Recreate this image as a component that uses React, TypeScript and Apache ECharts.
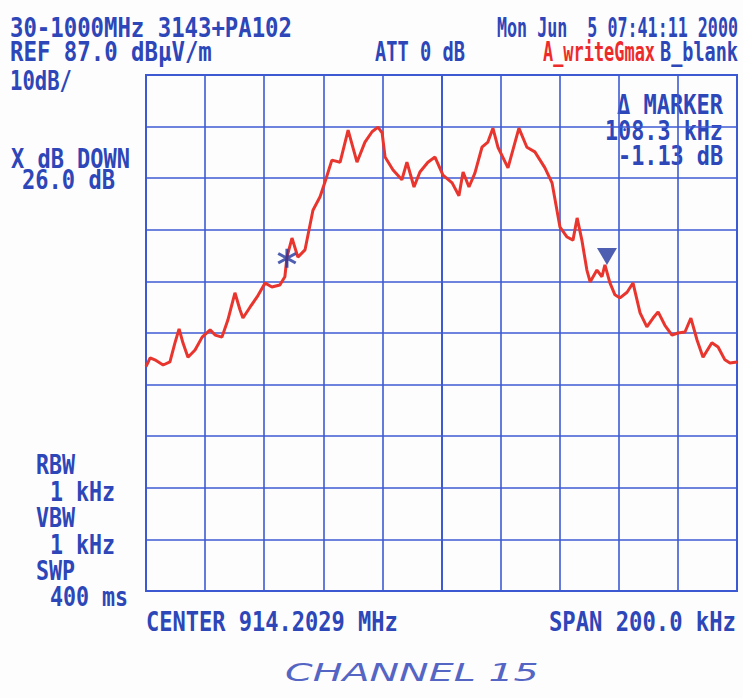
import React, { useEffect, useRef } from "react";
import * as echarts from "echarts";

// Frequency offset from centre (kHz) and level (dBµV/m)
const freqOffsetKHz = [
  -100, -98.6, -97.0, -94.2, -91.9, -90.2, -88.8, -87.5, -85.8, -83.4, -81.0, -78.3, -76.6, -74.3,
  -72.3, -69.9, -68.2, -67.2, -64.8, -62.4, -59.7, -57.4, -54.7, -53.0, -52.3, -50.6, -48.6, -46.2,
  -43.5, -41.1, -39.4, -37.1, -34.3, -31.6, -28.6, -25.9, -23.5, -21.5, -20.1, -19.1, -16.4, -13.4,
  -11.7, -9.3, -7.3, -4.6, -2.2, 0.5, 3.6, 5.9, 7.3, 9.3, 11.3, 13.7, 15.7, 17.4, 19.1, 22.5, 26.2,
  28.9, 31.6, 35.0, 37.4, 40.1, 42.5, 44.5, 45.9, 47.5, 49.2, 50.3, 52.6, 54.3, 55.3, 57.0, 58.7,
  60.4, 62.8, 64.8, 67.2, 69.5, 71.6, 73.3, 75.6, 78.0, 80.0, 82.4, 84.4, 86.5, 88.5, 91.5, 93.6,
  95.9, 97.6, 100,
];
const levelDbuV = [
  30.5, 32.2, 31.8, 30.8, 31.4, 35.1, 37.8, 35.1, 32.3, 33.7, 36.2, 37.6, 36.6, 36.2, 39.5, 44.8,
  41.5, 39.9, 42.0, 44.0, 46.7, 45.9, 46.3, 47.9, 51.7, 55.4, 51.7, 53.1, 60.8, 63.4, 66.3, 70.5,
  70.1, 76.3, 70.1, 74.0, 76.0, 76.9, 75.8, 71.1, 68.6, 66.7, 70.1, 65.3, 68.2, 70.1, 71.1, 67.6,
  66.1, 63.6, 68.2, 65.3, 68.0, 73.0, 74.0, 76.7, 73.0, 69.0, 76.7, 73.0, 72.1, 69.0, 66.1, 57.5,
  55.6, 55.0, 59.3, 55.0, 49.2, 46.9, 49.2, 47.9, 50.2, 46.7, 44.4, 43.8, 44.9, 46.7, 40.9, 38.2,
  39.9, 41.1, 38.5, 36.6, 37.0, 37.2, 39.9, 35.6, 32.3, 35.1, 34.3, 31.8, 31.2, 31.4,
];
const starMarker = [-52.3, 51.5];
const deltaMarker = [56.0, 50.2];

const refLevel = 87;
const dbPerDiv = 10;
const divisions = 10;
const spanKHz = 200;

const BLUE = "#2d46b8";
const GRID = "#3d5ad2";
const RED = "#e8352e";
const MARK = "#22369e";

const ASTERISK =
  "path://M8.5,0 L11.5,0 L11.5,20 L8.5,20 Z M17.91,3.7 L19.41,6.3 L2.09,16.3 L0.59,13.7 Z M2.09,3.7 L19.41,13.7 L17.91,16.3 L0.59,6.3 Z";

function mono(text: string, left: number, cy: number, width: number, fill = BLUE, fontSize = 26) {
  return {
    type: "text",
    x: left,
    y: cy,
    scaleX: width / (text.length * 0.602 * fontSize),
    style: {
      text,
      fontFamily: "DejaVu Sans Mono",
      fontWeight: "bold",
      fontSize,
      fill,
      textAlign: "left",
      textVerticalAlign: "middle",
    },
  };
}

export default function App() {
  const ref = useRef<HTMLDivElement>(null);
  useEffect(() => {
    document.body.style.margin = "0";
    const chart = echarts.init(ref.current!, null, { renderer: "svg" });
    // plot relative to the reference level (top graticule line = 0 dB)
    const rel = (v: number) => v - refLevel;
    const line = freqOffsetKHz.map((f, i) => [f, rel(levelDbuV[i])]);
    chart.setOption({
      animation: false,
      backgroundColor: "#fdfdfd",
      grid: {
        left: 146,
        top: 75,
        width: 591,
        height: 516,
        show: true,
        borderColor: GRID,
        borderWidth: 2,
      },
      xAxis: {
        type: "value",
        min: -spanKHz / 2,
        max: spanKHz / 2,
        interval: spanKHz / divisions,
        axisLabel: { show: false },
        axisTick: { show: false },
        axisLine: { show: true, lineStyle: { color: GRID, width: 2 } },
        splitLine: { show: true, lineStyle: { color: GRID, width: 1.6 } },
      },
      yAxis: {
        type: "value",
        min: -divisions * dbPerDiv,
        max: 0,
        interval: dbPerDiv,
        axisLabel: { show: false },
        axisTick: { show: false },
        axisLine: { show: true, lineStyle: { color: GRID, width: 2 } },
        splitLine: { show: true, lineStyle: { color: GRID, width: 1.6 } },
      },
      series: [
        {
          type: "line",
          data: line,
          symbol: "none",
          lineStyle: { color: RED, width: 3 },
          z: 3,
        },
        {
          type: "scatter",
          data: [[starMarker[0], rel(starMarker[1])]],
          symbol: ASTERISK,
          symbolSize: 19,
          itemStyle: { color: MARK },
          z: 4,
        },
        {
          type: "scatter",
          data: [[deltaMarker[0], rel(deltaMarker[1])]],
          symbol: "triangle",
          symbolRotate: 180,
          symbolSize: [20, 17],
          symbolOffset: [0, -8.5],
          itemStyle: { color: MARK },
          z: 4,
        },
      ],
      graphic: [
        mono("30-1000MHz 3143+PA102", 10, 28, 282),
        mono("REF 87.0 dBµV/m", 10, 52, 202),
        mono("10dB/", 10, 81, 62),
        mono("Mon Jun  5 07:41:11 2000", 497, 28, 241),
        mono("ATT 0 dB", 375, 52, 90),
        mono("A_writeGmax", 543, 52, 112, "#ee2b2b"),
        mono("B_blank", 660, 52, 78),
        mono("Δ MARKER", 617, 105, 106),
        mono("108.3 kHz", 605, 131, 118),
        mono("-1.13 dB", 618, 156, 105),
        mono("X dB DOWN", 11, 159, 119),
        mono("26.0 dB", 22, 180, 93),
        mono("RBW", 36, 465, 39),
        mono("1 kHz", 50, 492, 65),
        mono("VBW", 36, 518, 39),
        mono("1 kHz", 50, 545, 65),
        mono("SWP", 36, 571, 39),
        mono("400 ms", 50, 597, 78),
        mono("CENTER 914.2029 MHz", 146, 622, 252),
        mono("SPAN 200.0 kHz", 549, 622, 187),
        {
          type: "text",
          x: 285,
          y: 673,
          scaleX: 1.65,
          style: {
            text: "CHANNEL 15",
            fontFamily: "DejaVu Sans",
            fontStyle: "italic",
            fontWeight: 200,
            fontSize: 24,
            fill: "#5565c4",
            textAlign: "left",
            textVerticalAlign: "middle",
          },
        },
      ],
    });
    return () => chart.dispose();
  }, []);
  return <div ref={ref} style={{ width: 743, height: 698 }} />;
}
